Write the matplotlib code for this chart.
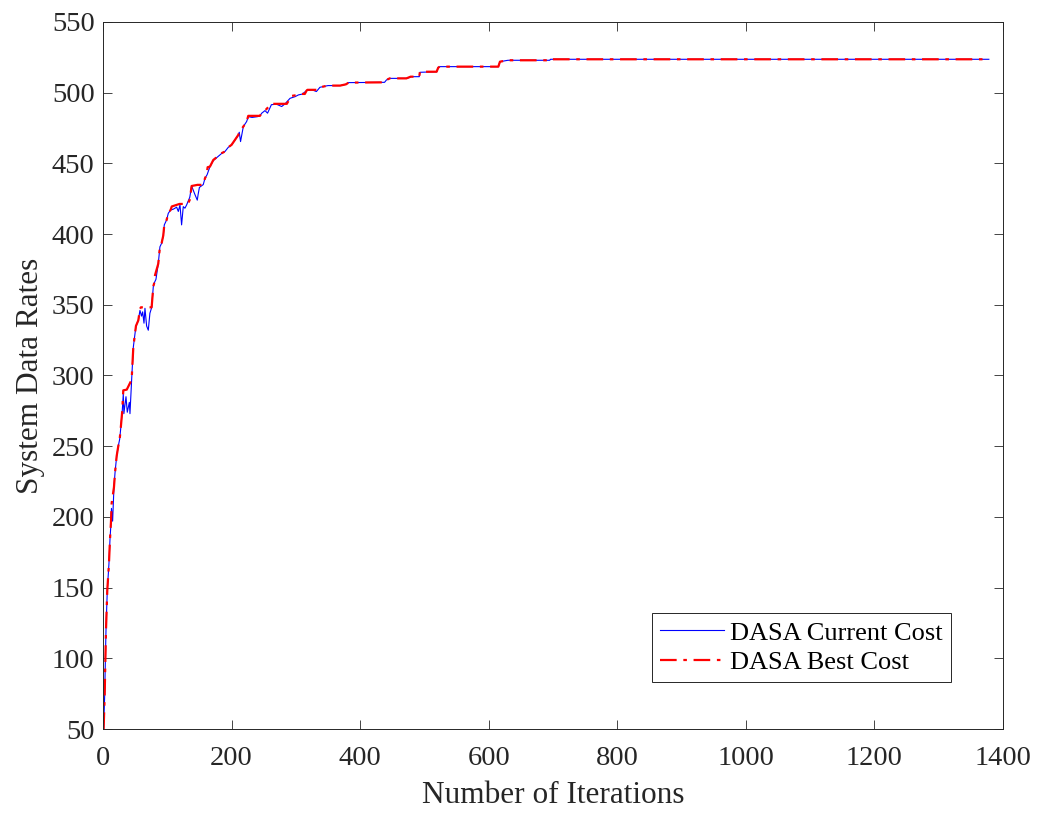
import matplotlib
matplotlib.use("Agg")
import matplotlib.pyplot as plt

plt.rcParams['font.family'] = ['Liberation Serif', 'DejaVu Serif']

# DASA Current Cost (iteration, value)
cur_iter = [1, 2.6, 3.6, 4.7, 6.7, 9.3, 10.9, 12.4, 13.2, 15.0, 17.1, 18.7, 21.3, 23.8, 26, 27.5, 30,
            31.6, 32.5, 35.8, 37.8, 41, 42, 44.6, 47.2, 51.3, 55, 57.5, 60, 61.7, 63.8, 65.3, 67.9,
            70.5, 73, 75.7, 78.3, 79.3, 82.4, 86, 88.6, 91.2, 93.8, 95.4, 99, 101.6, 105.2, 109.4,
            114.6, 117.2, 119.8, 122.3, 124.9, 127.5, 130.1, 135, 137.9, 143, 146.7, 148, 150, 153,
            156, 158.7, 162, 166.4, 171.6, 176.8, 184.6, 189.8, 195, 200, 205.3, 210.5, 212, 214,
            218.3, 223.5, 226, 232, 240, 244, 247, 252, 256, 262, 270, 278, 283, 291, 299, 304, 310,
            316.8, 325, 332, 337.5, 350, 369, 378, 382, 438, 441, 446, 472, 477.5, 479, 492, 493,
            519, 521.5, 524, 615, 617.5, 630, 695, 696, 1378]
cur_val = [50, 73, 96, 120, 148, 167, 184, 195, 206, 197, 221, 231, 243, 250, 255, 262, 275,
           287, 273, 285, 274, 281, 273, 297, 320, 335, 339, 346, 342, 345, 337, 347.5, 335,
           332, 344, 348, 363, 365, 368, 379, 391, 393.5, 399, 406.5, 410, 414.7, 417, 417.6,
           419, 416, 420.6, 406.5, 419.4, 418.3, 420.6, 426, 434, 428, 424, 428, 433, 434,
           435, 439.5, 442, 447.7, 452, 454, 457, 458.4, 461.4, 463, 466.6, 470, 472, 465.4,
           476, 479.6, 483, 482.5, 483, 483.5, 485.5, 487.3, 485.5, 491.5, 491.8, 490.2, 492, 496, 497.2, 498.4, 499,
           501.5, 502, 500.8, 503.8, 505, 505, 505.9, 507.1, 507.3, 509, 510.1, 510.1, 510.8, 511.3, 511.3, 514.4,
           514.8, 517.7, 518.4, 518.4, 521.9, 522.9, 522.9, 523.6, 523.6]

# DASA Best Cost (iteration, value)
best_iter = [1, 2.6, 3.6, 4.7, 6.7, 9.3, 10.9, 12.4, 13.5, 17.1, 18.7, 21.3, 23.8, 26, 27.5, 30,
             31.6, 37, 44.6, 47.2, 51.3, 55, 57.5, 59, 75.7, 78.3, 79.5, 81, 86, 88.6, 91.2, 93.8,
             95.4, 99, 101.6, 105.2, 107, 119, 132, 135, 137.9, 147, 153, 156, 158.7, 161.2, 162.8,
             166.4, 171.6, 176.8, 184.6, 189.8, 195, 200, 205.3, 210.5, 212, 218.3, 223.5, 226, 244,
             247, 252, 262, 286, 291, 293.4, 303.8, 306.4, 314, 316.8, 318, 332, 337.5, 350, 369,
             378, 382, 438, 441, 446, 472, 478.5, 492, 493, 519, 521.5, 524, 615, 617.5, 630, 695,
             696, 1378]
best_val = [50, 73, 96, 120, 148, 167, 184, 196, 209.6, 221, 231, 243, 250, 255, 262, 275,
            289.5, 290, 297, 320, 335, 339, 347, 348.2, 348.2, 363, 365, 371, 379, 391, 393.5, 399,
            406.5, 410, 414.7, 417.1, 419.5, 421.3, 421.3, 424.2, 434, 434.8, 434.8, 435, 439.5, 441.8, 447.3,
            447.7, 452.4, 454.3, 457.2, 458.4, 461.4, 463.1, 466.6, 470.1, 472, 476, 479.6, 483.6, 483.6,
            485.5, 487.3, 492.1, 492.1, 496.1, 497.7, 498.4, 499.1, 499.1, 501.5, 502, 502, 503.8, 505, 505,
            505.9, 507.1, 507.3, 509, 510.1, 510.1, 511.3, 511.3, 514.8, 514.8, 517.7, 518.4, 518.4, 521.9, 522.9, 522.9,
            523.6, 523.6]

x_ticks = [0, 200, 400, 600, 800, 1000, 1200, 1400]
y_ticks = [50, 100, 150, 200, 250, 300, 350, 400, 450, 500, 550]

fig = plt.figure(figsize=(10.37, 8.13), dpi=100)
ax = fig.add_axes([0.0993, 0.1033, 0.8679, 0.8697])

ax.plot(cur_iter, cur_val, color=(0, 0, 1), lw=0.8, label='DASA Current Cost')
ax.plot(best_iter, best_val, color=(1, 0, 0), lw=1.6, linestyle=(0, (7.5, 3.0, 1.6, 3.0)),
        dash_capstyle='butt', label='DASA Best Cost')

ax.set_xlim(0, 1400)
ax.set_ylim(50, 550)
ax.set_xticks(x_ticks)
ax.set_yticks(y_ticks)
ax.tick_params(direction='in', length=6.5, width=0.6, top=True, right=True,
               labelsize=20.5, colors='#262626', labelcolor='#262626')
ax.tick_params(axis='x', pad=12)
ax.tick_params(axis='y', pad=6)
for s in ax.spines.values():
    s.set_color('#262626')
    s.set_linewidth(0.7)

ax.set_xlabel('Number of Iterations', fontsize=22.5, color='#262626', labelpad=7.5)
ax.set_ylabel('System Data Rates', fontsize=22.5, color='#262626', labelpad=5)

leg = ax.legend(loc='lower right', bbox_to_anchor=(0.942, 0.0666), fontsize=19,
                fancybox=False, framealpha=1, edgecolor='#262626', handlelength=2.4,
                borderpad=0.3, labelspacing=0.22, handletextpad=0.25, borderaxespad=0)
leg.get_frame().set_linewidth(0.7)

fig.savefig('out.png', dpi=100)
